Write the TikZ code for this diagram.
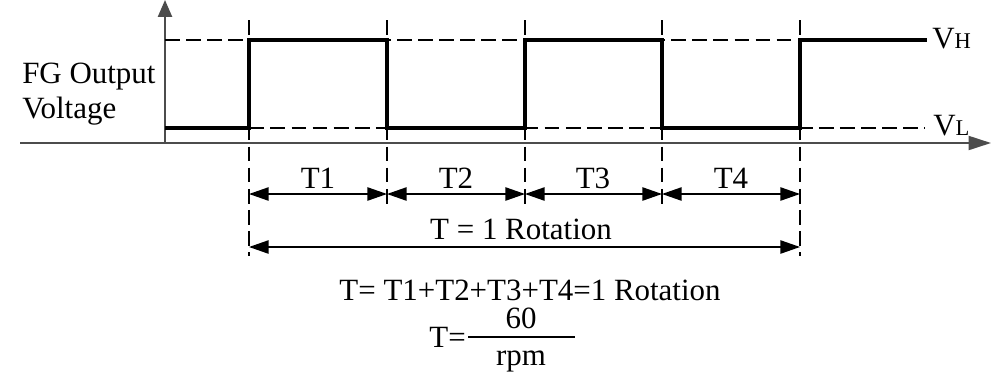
\documentclass[tikz,border=0pt]{standalone}
\usepackage{fontspec}
\setmainfont{Liberation Serif}
\usetikzlibrary{arrows.meta}
\begin{document}
\begin{tikzpicture}[x=0.025cm,y=-0.025cm,
  lbl/.style={inner sep=0pt,font=\fontsize{22}{26}\selectfont},
  axisline/.style={line width=1.4pt,draw=black!70},
  sig/.style={line width=2.6pt,line join=miter},
  guide/.style={line width=0.9pt,dash pattern=on 10.5pt off 4.5pt},
  dim/.style={line width=1pt,{Triangle[length=14pt,width=9.5pt]}-{Triangle[length=14pt,width=9.5pt]}}
]
\useasboundingbox (0,0) rectangle (1000,383);
% axes
\coordinate (yo) at (165,143);
\coordinate (yt) at (165,0);
\coordinate (xl) at (20,143);
\coordinate (xr) at (991,143);
\draw[axisline,-{Triangle[length=12pt,width=10pt]}] (yo) -- (yt);
\draw[axisline,-{Triangle[length=16pt,width=10pt]}] (xl) -- (xr);
% dashed level lines
\draw[guide] (165,40) -- (925,40);
\draw[guide] (165,128) -- (925,128);
% dashed vertical lines
\draw[guide] (249,20) -- (249,256);
\draw[guide] (800,20) -- (800,256);
\draw[guide] (387,20) -- (387,206);
\draw[guide] (525,20) -- (525,206);
\draw[guide] (662,20) -- (662,206);
% signal
\draw[sig] (165,128) -- (249,128) -- (249,40) -- (387,40) -- (387,128) -- (525,128)
  -- (525,40) -- (662,40) -- (662,128) -- (800,128) -- (800,40) -- (927,40);
% dimension arrows
\coordinate (d0) at (249,194);
\coordinate (d1) at (387,194);
\coordinate (d2) at (525,194);
\coordinate (d3) at (662,194);
\coordinate (d4) at (800,194);
\draw[dim] (d0) -- (d1);
\draw[dim] (d1) -- (d2);
\draw[dim] (d2) -- (d3);
\draw[dim] (d3) -- (d4);
\coordinate (r0) at (249,247);
\coordinate (r1) at (800,247);
\draw[dim] (r0) -- (r1);
% labels
\node[lbl,anchor=base west] (fg1) at (22,83) {FG Output};
\node[lbl,anchor=base west] (fg2) at (22,118) {Voltage};
\node[lbl,anchor=base west] (vh) at (932,48) {V{\fontsize{16}{16}\selectfont H}};
\node[lbl,anchor=base west] (vl) at (933,135) {V{\fontsize{16}{16}\selectfont L}};
\node[lbl,anchor=base] (t1) at (318,188) {T1};
\node[lbl,anchor=base] (t2) at (456,188) {T2};
\node[lbl,anchor=base] (t3) at (593,188) {T3};
\node[lbl,anchor=base] (t4) at (731,188) {T4};
\node[lbl,anchor=base] (trot) at (521,239) {T = 1 Rotation};
\node[lbl,anchor=base] (sum) at (530,300) {T= T1+T2+T3+T4=1 Rotation};
\node[lbl,anchor=base east] (teq) at (466,347) {T=};
\node[lbl,anchor=base] (num) at (521,328) {60};
\node[lbl,anchor=base] (den) at (521,365) {rpm};
\coordinate (b0) at (468,337);
\coordinate (b1) at (575,337);
\draw[line width=1pt] (b0) -- (b1);
\end{tikzpicture}
\end{document}
